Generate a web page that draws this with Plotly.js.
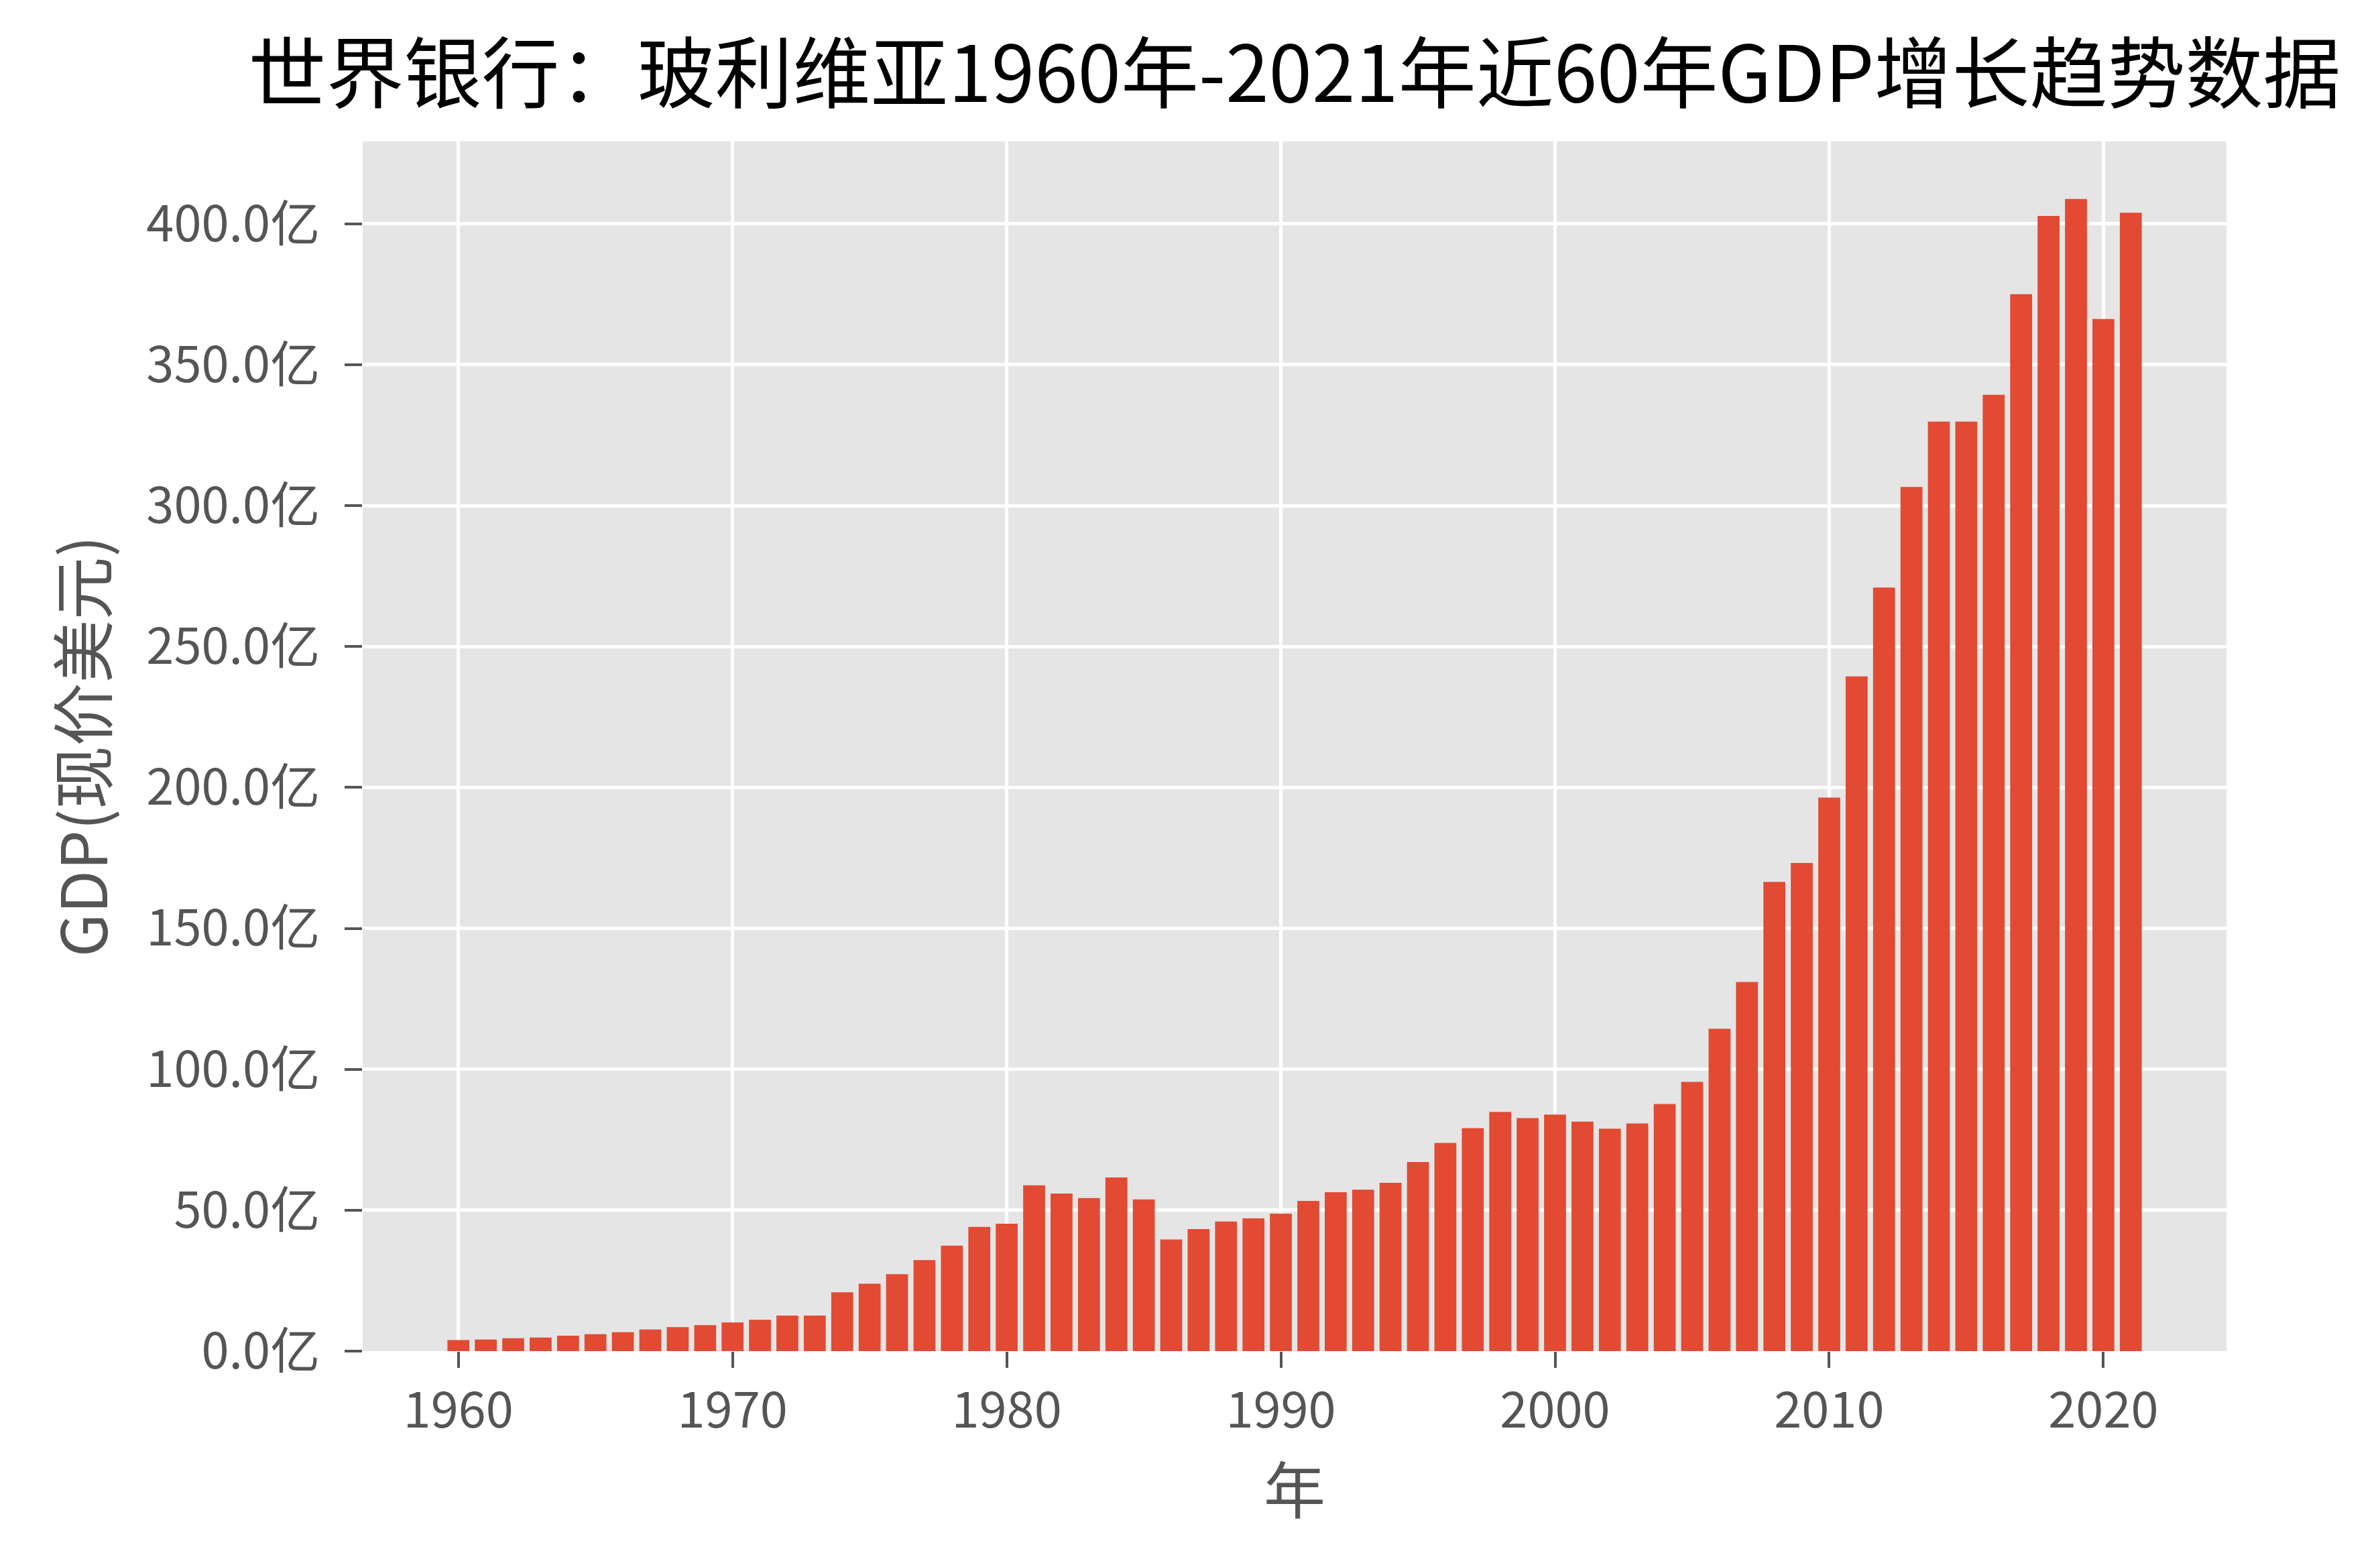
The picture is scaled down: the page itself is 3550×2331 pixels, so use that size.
<!DOCTYPE html>
<html>
<head>
<meta charset="utf-8">
<script src="https://cdn.plot.ly/plotly-3.0.1.min.js"></script>
<style>
  html, body { margin: 0; padding: 0; background: #ffffff; }
  #chart { width: 3550px; height: 2331px; }
</style>
</head>
<body>
<div id="chart"></div>
<script>
// 年份
var years = [1960,1961,1962,1963,1964,1965,1966,1967,1968,1969,
             1970,1971,1972,1973,1974,1975,1976,1977,1978,1979,
             1980,1981,1982,1983,1984,1985,1986,1987,1988,1989,
             1990,1991,1992,1993,1994,1995,1996,1997,1998,1999,
             2000,2001,2002,2003,2004,2005,2006,2007,2008,2009,
             2010,2011,2012,2013,2014,2015,2016,2017,2018,2019,
             2020,2021];

// GDP (亿美元)
var gdp = [3.9,4.1,4.6,4.8,5.5,6.0,6.7,7.7,8.5,9.2,
           10.2,11.1,12.6,12.6,20.9,23.9,27.3,32.3,37.4,44.1,
           45.2,58.8,55.9,54.3,61.6,53.8,39.6,43.3,46.0,47.1,
           48.8,53.3,56.4,57.3,59.7,67.1,73.9,79.1,84.9,82.7,
           83.9,81.4,78.9,80.8,87.7,95.5,114.4,131.0,166.5,173.2,
           196.4,239.4,270.9,306.6,329.8,329.8,339.3,375.0,402.8,408.8,
           366.2,403.9];

var yTickVals = [0,50,100,150,200,250,300,350,400];
var yTickText = ['0.0亿','50.0亿','100.0亿','150.0亿','200.0亿','250.0亿','300.0亿','350.0亿','400.0亿'];
var xTickVals = [1960,1970,1980,1990,2000,2010,2020];

var FONT = '"Noto Sans CJK SC", "Noto Sans", sans-serif';

var trace = {
  type: 'bar',
  x: years,
  y: gdp,
  marker: { color: '#E24A33', line: { width: 0 } },
  hoverinfo: 'x+y'
};

var layout = {
  width: 3550,
  height: 2331,
  paper_bgcolor: '#ffffff',
  plot_bgcolor: '#E5E5E5',
  showlegend: false,
  bargap: 0.2,
  margin: { l: 541, r: 229, t: 211, b: 316, pad: 0 },
  font: { family: FONT, color: '#555555' },
  title: {
    text: '世界银行：玻利维亚1960年-2021年近60年GDP增长趋势数据',
    font: { family: FONT, size: 116, color: '#000000' },
    x: 0.5, xref: 'paper', xanchor: 'center',
    y: 0.952, yref: 'container', yanchor: 'middle'
  },
  xaxis: {
    range: [1956.51, 2024.49],
    tickvals: xTickVals,
    ticks: 'outside',
    ticklen: 24,
    tickwidth: 4,
    tickcolor: '#555555',
    ticklabelstandoff: 0,
    tickfont: { family: FONT, size: 74, color: '#555555' },
    showgrid: true,
    gridcolor: '#ffffff',
    gridwidth: 5,
    zeroline: false,
    showline: false,
    title: { text: '年', font: { family: FONT, size: 92, color: '#555555' }, standoff: 40 }
  },
  yaxis: {
    range: [0, 429.2],
    tickvals: yTickVals,
    ticktext: yTickText,
    ticks: 'outside',
    ticklen: 26,
    tickwidth: 4,
    tickcolor: '#555555',
    ticklabelstandoff: 22,
    tickfont: { family: FONT, size: 74, color: '#555555' },
    showgrid: true,
    gridcolor: '#ffffff',
    gridwidth: 5,
    zeroline: false,
    showline: false,
    title: { text: 'GDP(现价美元)', font: { family: FONT, size: 94, color: '#555555' }, standoff: 26 }
  }
};

Plotly.newPlot('chart', [trace], layout, { staticPlot: true, displayModeBar: false });
</script>
</body>
</html>
